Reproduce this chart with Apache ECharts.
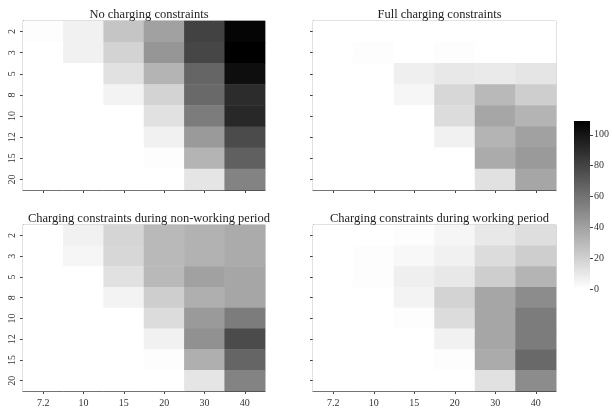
<!DOCTYPE html>
<html><head><meta charset="utf-8">
<script src="https://cdn.jsdelivr.net/npm/echarts@6/dist/echarts.min.js"></script>
<style>html,body{margin:0;padding:0;background:#fff}#c{width:612px;height:408px}</style>
</head><body><div id="c"></div>
<script>
const xCats = ['7.2', '10', '15', '20', '30', '40'];
const yCats = ['2', '3', '5', '8', '10', '12', '15', '20'];
const titles = ['No charging constraints', 'Full charging constraints',
  'Charging constraints during non-working period', 'Charging constraints during working period'];
const colorTicks = [0, 20, 40, 60, 80, 100];
const vMax = 109;

const noConstraints = [
  [1, 6, 25, 40, 81, 107],
  [0, 6, 19, 45, 79, 109],
  [0, 0, 13, 32, 66, 103],
  [0, 0, 5, 19, 64, 90],
  [0, 0, 0, 13, 56, 92],
  [0, 0, 0, 6, 43, 77],
  [0, 0, 0, 1, 32, 68],
  [0, 0, 0, 0, 11, 53]
];
const fullConstraints = [
  [0, 0, 0, 0, 0, 0],
  [0, 1, 0, 1, 0, 0],
  [0, 0, 7, 10, 9, 11],
  [0, 0, 4, 17, 30, 21],
  [0, 0, 0, 15, 38, 32],
  [0, 0, 0, 6, 32, 40],
  [0, 0, 0, 0, 36, 43],
  [0, 0, 0, 0, 13, 38]
];
const nonWorking = [
  [0, 6, 18, 30, 33, 36],
  [0, 4, 17, 30, 33, 36],
  [0, 0, 13, 30, 40, 38],
  [0, 0, 5, 21, 34, 38],
  [0, 0, 0, 15, 43, 56],
  [0, 0, 0, 6, 47, 77],
  [0, 0, 0, 1, 34, 66],
  [0, 0, 0, 0, 11, 53]
];
const working = [
  [0, 0, 1, 4, 10, 14],
  [0, 1, 3, 6, 15, 21],
  [0, 1, 7, 10, 21, 32],
  [0, 0, 5, 19, 38, 49],
  [0, 0, 1, 15, 38, 56],
  [0, 0, 0, 6, 38, 56],
  [0, 0, 0, 1, 36, 64],
  [0, 0, 0, 0, 13, 49]
];
const panels = [noConstraints, fullConstraints, nonWorking, working];

const FONT = 'Liberation Serif';
const layouts = [
  {left: 23, top: 21, width: 242, height: 169},
  {left: 313, top: 21, width: 243, height: 169},
  {left: 23, top: 225, width: 242, height: 168},
  {left: 313, top: 225, width: 243, height: 168}
];

function toData(m) {
  const out = [];
  m.forEach((row, yi) => row.forEach((v, xi) => out.push([xi, yi, v])));
  return out;
}

const grid = [], xAxis = [], yAxis = [], series = [], title = [];
layouts.forEach((l, i) => {
  grid.push(Object.assign({show: true, borderColor: '#b0b0b0', borderWidth: 1, backgroundColor: '#fff'}, l));
  title.push({
    text: titles[i], left: l.left + l.width / 2, top: l.top - 18, textAlign: 'center',
    textStyle: {fontFamily: FONT, fontSize: 12.5, fontWeight: 'normal', color: '#222'}
  });
  xAxis.push({
    type: 'category', data: xCats, gridIndex: i,
    axisLine: {show: true, lineStyle: {color: '#444', width: 1}},
    axisTick: {show: true, alignWithLabel: true, length: 3, lineStyle: {color: '#444'}},
    axisLabel: {show: i >= 2, fontFamily: FONT, fontSize: 10, color: '#333', margin: 7},
    splitLine: {show: false}
  });
  yAxis.push({
    type: 'category', data: yCats, gridIndex: i, inverse: true,
    axisLine: {show: true, lineStyle: {color: '#444', width: 1}},
    axisTick: {show: true, alignWithLabel: true, length: 3, lineStyle: {color: '#444'}},
    axisLabel: {show: i % 2 === 0, fontFamily: FONT, fontSize: 10, color: '#333', rotate: 90, margin: 6},
    splitLine: {show: false}
  });
  series.push({
    type: 'heatmap', xAxisIndex: i, yAxisIndex: i, data: toData(panels[i]),
    itemStyle: {borderWidth: 0}, emphasis: {disabled: true}, progressive: 0
  });
});

// colorbar
grid.push({left: 574, top: 121, width: 18, height: 168, show: false});
xAxis.push({type: 'category', data: ['c'], gridIndex: 4, show: false});
yAxis.push({
  type: 'value', gridIndex: 4, min: 0, max: vMax, position: 'right',
  axisLine: {show: false},
  axisTick: {show: true, length: 3, customValues: colorTicks, lineStyle: {color: '#444'}},
  axisLabel: {fontFamily: FONT, fontSize: 10, color: '#333', margin: 4, customValues: colorTicks},
  splitLine: {show: false}
});
series.push({
  type: 'bar', xAxisIndex: 4, yAxisIndex: 4, data: [vMax], barWidth: '100%', silent: true,
  itemStyle: {color: {type: 'linear', x: 0, y: 1, x2: 0, y2: 0,
    colorStops: [{offset: 0, color: '#ffffff'}, {offset: 1, color: '#000000'}]}}
});

const chart = echarts.init(document.getElementById('c'), null, {renderer: 'canvas'});
chart.setOption({
  animation: false,
  backgroundColor: '#fff',
  title, grid, xAxis, yAxis, series,
  visualMap: {show: false, min: 0, max: vMax, seriesIndex: [0, 1, 2, 3], inRange: {color: ['#ffffff', '#000000']}}
});
</script></body></html>
